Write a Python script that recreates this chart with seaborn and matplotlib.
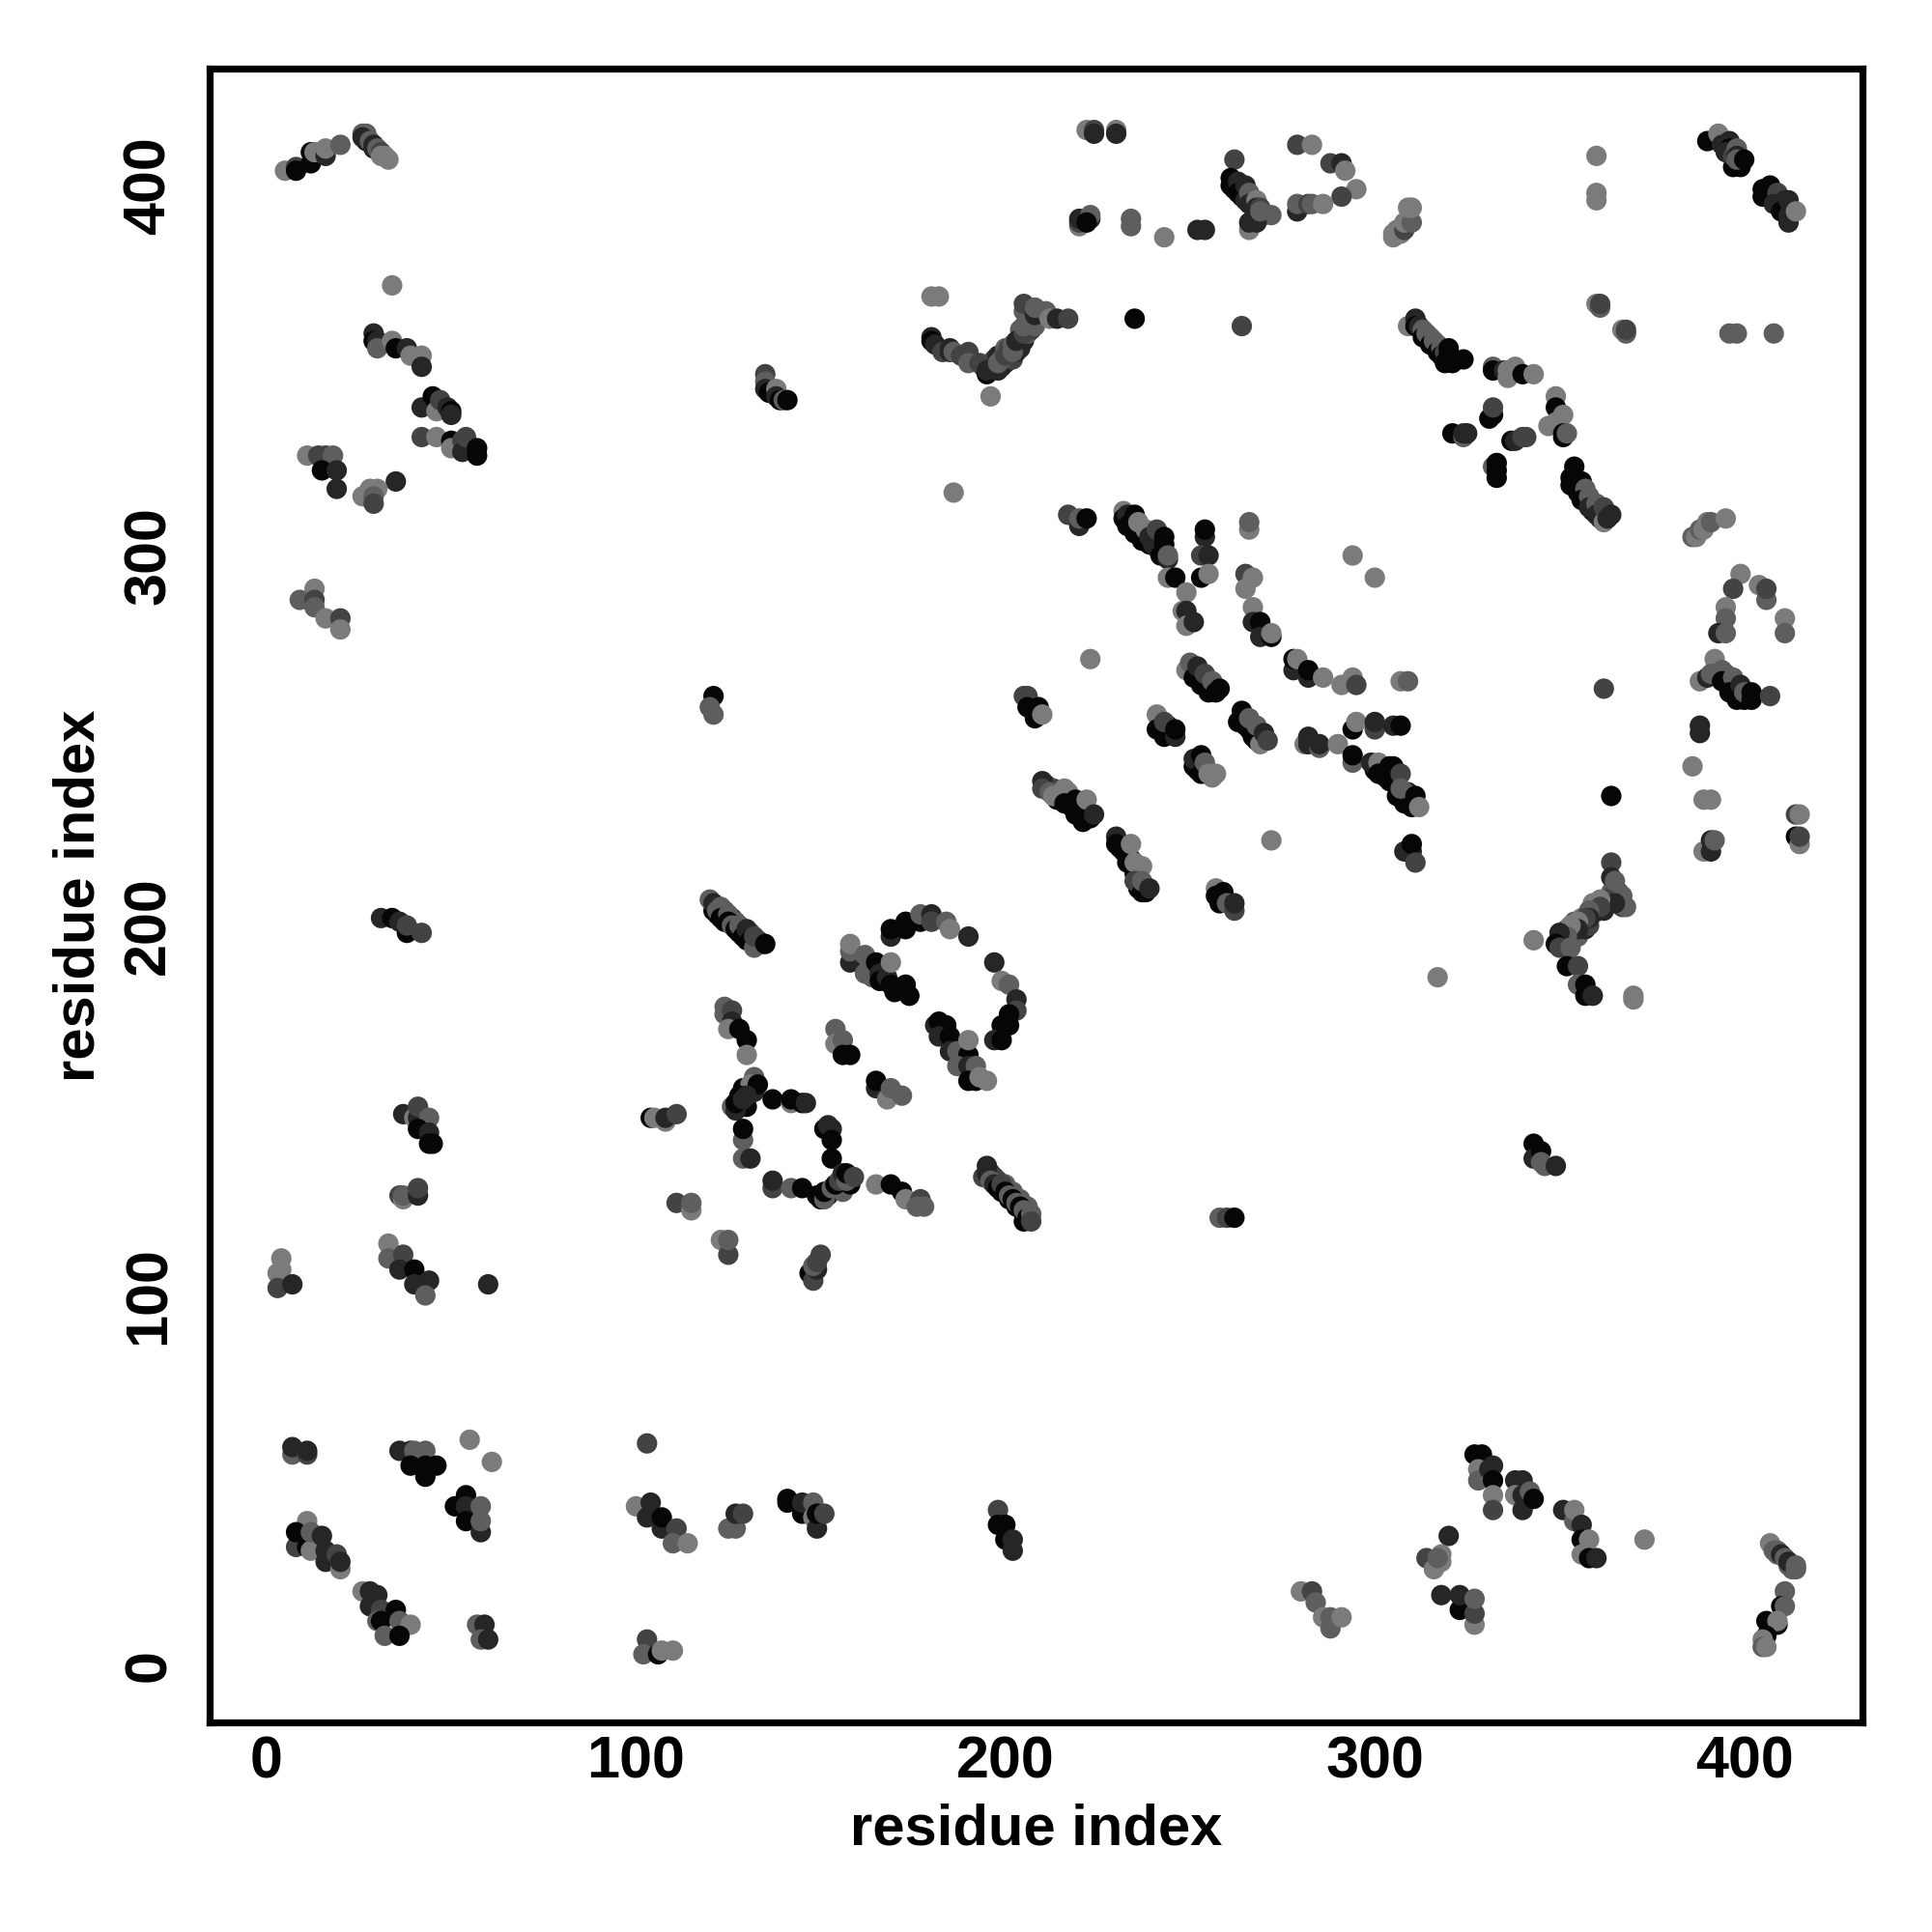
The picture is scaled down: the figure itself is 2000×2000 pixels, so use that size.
"""
Residue contact map, drawn point by point from values read off the picture.
g is the shade step of each contact: 0 = near black ... 4 = light grey.
"""
import pandas as pd
import matplotlib
matplotlib.use("Agg")
import matplotlib.pyplot as plt
import seaborn as sns

# points inside the dense streaks, they sit under everything else
under_x = [194, 196, 196, 197, 198, 199, 200, 200, 201, 201, 202, 203, 203, 204, 204, 204, 205, 206, 206, 207, 206, 207, 209, 210]
under_y = [351, 350, 352, 353, 354, 351, 352, 356, 353, 356, 353, 355, 357, 356, 359, 361, 358, 360, 363, 361, 365, 364, 366, 365]
under_g = [1, 0, 2, 2, 1, 1, 1, 3, 1, 2, 2, 1, 2, 1, 3, 3, 1, 3, 3, 2, 3, 3, 3, 2]

under2_x = [351, 352, 353, 354, 354, 355, 356, 356, 357, 358, 359, 359, 360, 362, 362, 363, 364, 364, 365, 366, 366, 367]
under2_y = [196, 199, 198, 197, 201, 197, 200, 202, 199, 200, 203, 206, 204, 206, 204, 207, 209, 207, 209, 206, 209, 205]
under2_g = [1, 3, 1, 2, 3, 3, 2, 4, 1, 2, 3, 4, 1, 3, 1, 3, 3, 0, 2, 3, 2, 2]

under3_x = [121, 122, 124, 124, 126, 127, 128, 129, 130, 131, 133, 133, 134, 196, 197, 198, 199, 200, 201, 202, 203, 204, 205, 206, 205]
under3_y = [204, 203, 204, 201, 202, 201, 198, 199, 196, 198, 196, 195, 195, 133, 132, 131, 128, 130, 126, 128, 124, 126, 122, 124, 120]
under3_g = [0, 0, 3, 0, 1, 3, 0, 3, 0, 3, 1, 0, 1, 1, 2, 2, 0, 3, 0, 3, 0, 3, 0, 3, 0]

under4_x = [406, 407, 408, 409, 410, 411, 355, 357, 359, 361, 359, 361, 211, 213, 214, 215, 218, 220, 221, 220, 221]
under4_y = [398, 397, 397, 395, 396, 394, 319, 316, 314, 312, 312, 310, 238, 237, 234, 236, 232, 232, 232, 230, 228]
under4_g = [1, 1, 2, 1, 1, 1, 0, 0, 3, 3, 0, 1, 1, 2, 0, 2, 0, 0, 1, 0, 0]

under5_x = [231, 233, 234, 235, 236, 236, 238, 265, 267, 269, 267, 300, 302, 303, 303, 305, 306, 309, 306, 309]
under5_y = [221, 220, 218, 214, 214, 210, 209, 254, 254, 251, 251, 242, 243, 241, 240, 240, 238, 234, 241, 236]
under5_g = [0, 3, 0, 0, 3, 0, 0, 0, 3, 1, 0, 0, 2, 1, 0, 0, 0, 0, 1, 1]

under6_x = [234, 236, 238, 239, 241, 241, 244, 245, 252, 252, 254, 256, 412, 413, 409, 128, 129, 131, 129, 130, 132, 150, 152, 155, 156, 156, 158]
under6_y = [309, 306, 304, 303, 302, 304, 254, 252, 244, 242, 242, 240, 27, 26, 30, 152, 151, 155, 156, 151, 155, 126, 127, 129, 130, 128, 130]
under6_g = [0, 1, 0, 0, 0, 1, 0, 0, 0, 0, 0, 4, 3, 3, 3, 0, 0, 1, 0, 0, 1, 0, 1, 0, 0, 3, 0]

# top left
tl_x = [5, 8, 8, 12, 12, 13, 16, 16, 20, 26, 27, 26, 27, 28, 29, 29, 30, 31, 31, 32, 33]
tl_y = [404, 405, 404, 406, 409, 409, 408, 410, 411, 414, 414, 413, 412, 412, 411, 410, 410, 409, 408, 408, 407]
tl_g = [4, 2, 0, 0, 0, 4, 1, 4, 3, 3, 3, 1, 1, 3, 1, 1, 3, 2, 4, 4, 4]

a_x = [34, 29, 29, 30, 30, 34, 35, 38, 39, 42, 42]
a_y = [373, 360, 358, 358, 356, 358, 356, 356, 354, 354, 351]
a_g = [4, 1, 0, 1, 3, 4, 0, 1, 4, 4, 1]

b_x = [42, 45, 46, 47, 49, 50, 50, 42, 46, 50, 50, 53, 53, 54, 57, 57]
b_y = [340, 343, 339, 342, 340, 339, 338, 332, 332, 331, 329, 331, 328, 332, 329, 327]
b_g = [1, 0, 4, 2, 1, 0, 1, 2, 4, 0, 4, 2, 1, 2, 0, 0]

c_x = [11, 14, 16, 18, 15, 19, 19, 35, 26, 28, 30, 29, 29, 13, 9, 13, 13, 16, 20, 20]
c_y = [327, 327, 327, 327, 323, 323, 318, 320, 316, 318, 318, 316, 314, 291, 288, 288, 286, 283, 283, 280]
c_g = [4, 2, 2, 3, 0, 1, 1, 1, 4, 4, 4, 3, 2, 4, 3, 2, 3, 4, 2, 4]

d_x = [135, 135, 135, 136, 138, 138, 139, 140, 141, 121, 120, 121]
d_y = [349, 347, 345, 344, 345, 343, 342, 342, 342, 262, 259, 257]
d_g = [2, 3, 1, 0, 4, 1, 0, 3, 0, 0, 3, 3]

# top middle
e_x = [222, 224, 224, 230, 230, 220, 220, 220, 223, 223, 222, 234, 234, 243, 252, 254, 235, 264]
e_y = [415, 415, 414, 415, 414, 389, 390, 391, 391, 392, 390, 391, 389, 386, 388, 388, 364, 362]
e_g = [4, 2, 1, 4, 1, 4, 2, 1, 1, 3, 0, 3, 3, 4, 1, 1, 0, 2]

f_x = [262, 266, 261, 261, 262, 263, 263, 264, 265, 265, 266, 266, 268, 268, 269, 270, 272, 266, 268, 269]
f_y = [407, 388, 402, 400, 399, 401, 398, 397, 400, 396, 398, 395, 396, 394, 394, 392, 392, 390, 390, 393]
f_g = [2, 4, 0, 0, 0, 1, 0, 0, 1, 1, 3, 1, 4, 1, 2, 2, 3, 1, 1, 3]

h_x = [279, 283, 288, 291, 292, 295, 291, 279, 279, 282, 283, 286]
h_y = [411, 411, 406, 406, 404, 399, 397, 393, 395, 395, 395, 395]
h_g = [2, 4, 2, 1, 4, 4, 2, 1, 3, 2, 3, 4]

i_x = [305, 305, 306, 307, 308, 308, 310, 309, 310]
i_y = [386, 387, 388, 387, 388, 390, 390, 394, 394]
i_g = [4, 4, 4, 4, 2, 4, 3, 4, 4]

j_x = [180, 182, 186, 196, 180, 180, 181, 183, 185, 185, 186, 188]
j_y = [370, 370, 317, 343, 359, 358, 357, 355, 356, 355, 355, 354]
j_g = [4, 4, 4, 4, 1, 0, 1, 2, 1, 1, 3, 2]

k_x = [190, 190, 193, 195, 195, 197, 198, 198, 199, 200, 202, 202, 203, 205, 205, 208, 205, 205, 208, 208, 211, 212, 214, 217]
k_y = [355, 352, 352, 349, 350, 351, 350, 352, 353, 354, 355, 357, 358, 360, 362, 362, 366, 368, 365, 367, 366, 364, 364, 364]
k_g = [2, 3, 2, 0, 1, 1, 1, 3, 3, 2, 3, 3, 1, 2, 3, 3, 3, 2, 1, 3, 3, 4, 1, 2]

# top right
m_x = [390, 393, 394, 396, 396, 395, 397, 397, 398, 398, 399, 398, 400]
m_y = [412, 414, 411, 412, 410, 409, 405, 408, 410, 408, 405, 407, 407]
m_g = [0, 4, 1, 1, 0, 1, 0, 2, 3, 1, 0, 3, 0]

n_x = [405, 405, 407, 409, 408, 411, 410, 412, 412, 412, 414]
n_y = [399, 397, 400, 398, 395, 396, 393, 396, 390, 392, 393]
n_g = [0, 0, 0, 2, 1, 1, 0, 1, 1, 1, 4]

o_x = [360, 360, 360, 360, 361, 361, 367, 368, 368, 396, 398, 408]
o_y = [408, 398, 396, 368, 367, 368, 361, 360, 361, 360, 360, 360]
o_g = [4, 4, 4, 4, 3, 2, 4, 3, 2, 3, 3, 3]

p_x = [309, 311, 311, 312, 313, 313, 314, 315, 315, 316, 317, 317, 318, 318, 319, 319, 320, 320, 321, 320, 324]
p_y = [362, 364, 362, 362, 361, 359, 360, 359, 357, 358, 357, 355, 356, 354, 355, 352, 354, 353, 352, 356, 353]
p_g = [4, 1, 0, 1, 3, 0, 3, 3, 0, 3, 3, 0, 3, 0, 2, 0, 0, 0, 0, 0, 0]

q_x = [332, 332, 335, 336, 336, 338, 340, 343, 349, 349, 347, 349, 351, 351, 351, 352]
q_y = [351, 350, 350, 348, 350, 351, 349, 349, 343, 340, 335, 336, 338, 333, 332, 333]
q_g = [3, 0, 1, 4, 4, 4, 0, 4, 4, 0, 4, 4, 4, 0, 0, 3]

r_x = [331, 332, 332, 321, 324, 324, 325, 337, 338, 340, 341, 332, 333, 333, 333]
r_y = [337, 338, 340, 333, 332, 333, 333, 331, 331, 332, 332, 324, 325, 323, 321]
r_g = [0, 0, 2, 0, 3, 1, 1, 0, 1, 2, 2, 3, 0, 0, 0]

s_x = [353, 353, 354, 355, 356, 357, 356, 358, 358, 360, 360, 362, 362, 363, 364]
s_y = [321, 319, 324, 317, 320, 318, 315, 316, 313, 314, 311, 309, 313, 310, 311]
s_g = [0, 0, 0, 0, 0, 3, 0, 3, 1, 3, 1, 4, 2, 1, 1]

t_x = [386, 387, 388, 389, 390, 391, 395, 399, 397, 404, 406, 406, 395, 395, 393, 395, 411, 411]
t_y = [305, 305, 307, 307, 309, 309, 310, 295, 291, 292, 288, 291, 286, 283, 279, 279, 283, 279]
t_g = [3, 4, 3, 4, 4, 3, 4, 4, 2, 4, 3, 2, 4, 3, 1, 3, 4, 3]

u_x = [388, 392, 390, 391, 394, 395, 394, 397, 396, 399, 398, 400, 400, 402, 402, 407, 362]
u_y = [266, 272, 267, 268, 269, 268, 266, 267, 263, 265, 261, 261, 263, 261, 263, 262, 264]
u_g = [4, 4, 1, 3, 3, 3, 0, 3, 0, 1, 0, 0, 3, 0, 0, 2, 2]

v_x = [388, 388, 386, 364, 389, 391, 414, 415, 414, 415, 415, 389, 391, 391, 392]
v_y = [254, 252, 243, 235, 234, 234, 230, 230, 224, 222, 224, 220, 220, 223, 223]
v_g = [1, 1, 4, 0, 4, 4, 2, 4, 0, 4, 2, 4, 1, 1, 3]

w_x = [364, 364, 365, 367, 368, 365, 361, 361, 358, 358, 357, 355, 355, 353, 352, 350, 349, 350, 353]
w_y = [217, 213, 212, 208, 205, 206, 207, 205, 204, 202, 202, 201, 199, 200, 197, 198, 195, 194, 194]
w_g = [2, 1, 3, 3, 3, 1, 4, 2, 3, 1, 2, 4, 1, 4, 3, 1, 0, 2, 3]

y_x = [343, 352, 355, 355, 357, 357, 359, 370, 370, 317]
y_y = [196, 189, 189, 184, 184, 181, 181, 181, 180, 186]
y_g = [4, 0, 2, 3, 0, 0, 1, 4, 4, 4]

# centre, the long diagonal streaks
aa_x = [217, 220, 220, 222, 232, 232, 233, 233, 235, 235, 236, 237, 238, 239, 240, 241, 242, 243, 243, 244, 244]
aa_y = [311, 308, 310, 310, 312, 310, 311, 308, 311, 306, 309, 304, 307, 305, 303, 307, 300, 305, 303, 299, 300]
aa_g = [2, 1, 3, 0, 4, 0, 1, 0, 0, 0, 4, 0, 4, 1, 1, 2, 0, 0, 0, 1, 3]

ab_x = [244, 246, 249, 248, 249, 249, 251, 254, 254, 253, 255, 253, 255]
ab_y = [294, 294, 290, 285, 285, 281, 282, 305, 307, 300, 300, 294, 295]
ab_g = [4, 0, 4, 4, 1, 4, 1, 1, 0, 2, 1, 0, 4]

ac_x = [266, 266, 265, 265, 267, 267, 267, 269, 269, 272, 272, 294, 300]
ac_y = [307, 309, 295, 291, 294, 286, 282, 282, 278, 278, 279, 300, 294]
ac_g = [4, 3, 2, 4, 4, 4, 1, 0, 1, 0, 4, 4, 4]

ad_x = [223, 278, 278, 279, 282, 282, 286, 291, 294, 295, 307, 309]
ad_y = [272, 269, 272, 272, 267, 269, 267, 265, 267, 265, 266, 266]
ad_g = [4, 1, 0, 4, 1, 0, 4, 4, 4, 2, 4, 3]

ae_x = [249, 250, 251, 252, 253, 254, 255, 256, 257, 258]
ae_y = [269, 271, 267, 270, 265, 268, 263, 266, 263, 264]
ae_g = [4, 3, 0, 1, 0, 2, 0, 3, 0, 0]

af_x = [241, 241, 242, 243, 243, 246, 246, 251, 251, 253, 253, 254, 255, 257]
af_y = [257, 253, 253, 251, 255, 251, 253, 243, 245, 241, 246, 244, 241, 241]
af_g = [4, 0, 0, 0, 2, 1, 0, 0, 1, 0, 0, 3, 4, 4]

ag_x = [263, 264, 266, 266, 268, 268, 269, 270, 271, 281, 282, 282, 285, 285, 290]
ag_y = [255, 258, 253, 256, 250, 254, 249, 252, 250, 249, 249, 251, 248, 249, 249]
ag_g = [0, 0, 0, 3, 0, 3, 4, 1, 2, 4, 1, 1, 3, 1, 4]

ah_x = [294, 295, 300, 300, 305, 307, 294, 294]
ah_y = [253, 255, 253, 255, 254, 254, 244, 246]
ah_g = [0, 4, 2, 1, 1, 0, 3, 0]

ai_x = [299, 301, 301, 304, 305, 304, 307, 306, 308, 308, 307, 310, 311, 312]
ai_y = [244, 244, 241, 243, 243, 239, 241, 235, 236, 233, 237, 232, 235, 232]
ai_g = [1, 4, 0, 0, 0, 0, 2, 0, 3, 0, 3, 0, 0, 4]

aj_x = [308, 310, 310, 311, 272, 205, 206, 206, 209, 208, 210]
aj_y = [220, 220, 222, 217, 223, 262, 262, 259, 259, 256, 257]
aj_g = [1, 1, 0, 2, 4, 2, 2, 0, 0, 0, 4]

ak_x = [210, 210, 212, 213, 216, 217, 216, 219, 219, 222, 222, 223, 224]
ak_y = [239, 237, 236, 235, 237, 236, 233, 234, 230, 229, 234, 229, 230]
ak_g = [1, 2, 3, 4, 4, 4, 0, 0, 0, 0, 4, 0, 1]

al_x = [230, 230, 232, 233, 234, 235, 237, 235, 237, 237, 239]
al_y = [224, 222, 220, 217, 222, 217, 216, 212, 209, 212, 210]
al_g = [1, 0, 0, 0, 4, 4, 4, 2, 0, 3, 1]

am_x = [257, 257, 259, 258, 260, 262, 262]
am_y = [210, 208, 209, 206, 206, 204, 206]
am_g = [4, 0, 0, 0, 3, 2, 1]

# the loops around (130-200, 130-200)
an_x = [120, 121, 122, 123, 123, 125, 125, 126, 127, 128, 129, 130, 131, 132, 132, 135]
an_y = [207, 206, 204, 205, 202, 203, 201, 200, 199, 200, 197, 199, 196, 194, 197, 195]
an_g = [3, 1, 3, 3, 0, 3, 0, 3, 0, 3, 0, 1, 0, 3, 2, 0]

ao_x = [169, 169, 173, 173, 177, 177, 180, 180, 184, 185, 190, 197, 199, 201, 203, 203, 201, 201, 199, 197, 199]
ao_y = [197, 199, 201, 199, 201, 203, 203, 201, 201, 199, 197, 190, 185, 184, 180, 177, 176, 173, 173, 169, 169]
ao_g = [1, 0, 0, 0, 0, 3, 1, 2, 3, 4, 1, 1, 4, 3, 1, 2, 0, 0, 0, 1, 0]

ap_x = [158, 158, 158, 162, 162, 164, 165, 166, 166, 168, 169, 169, 170, 173, 174]
ap_y = [190, 193, 195, 192, 187, 186, 190, 187, 185, 186, 184, 190, 182, 184, 181]
ap_g = [1, 3, 4, 3, 3, 3, 0, 1, 0, 1, 0, 4, 0, 0, 0]

aq_x = [181, 182, 184, 182, 185, 185, 187, 190, 187, 190, 192, 190, 192, 193, 190, 195]
aq_y = [173, 174, 173, 170, 170, 166, 166, 165, 162, 162, 162, 158, 158, 159, 169, 158]
aq_g = [1, 0, 0, 1, 0, 1, 3, 0, 3, 1, 3, 0, 0, 4, 4, 4]

ar_x = [124, 124, 126, 126, 125, 128, 130, 130, 154, 154, 156, 156, 158, 165, 165, 168, 169, 172]
ar_y = [178, 176, 177, 174, 172, 172, 169, 165, 172, 168, 169, 165, 165, 156, 158, 153, 156, 154]
ar_g = [3, 3, 2, 1, 4, 0, 0, 4, 3, 4, 3, 0, 0, 1, 0, 4, 3, 3]

as_x = [132, 131, 133, 128, 130, 126, 127, 127, 129, 137, 142, 142, 145, 146]
as_y = [159, 157, 157, 154, 154, 151, 150, 152, 153, 153, 152, 153, 152, 152]
as_g = [3, 4, 0, 0, 1, 3, 1, 0, 1, 0, 4, 0, 0, 1]

at_x = [129, 129, 129, 131, 151, 152, 153, 153, 153]
at_y = [142, 145, 137, 137, 145, 146, 145, 142, 137]
at_g = [3, 0, 3, 1, 0, 1, 1, 0, 0]

au_x = [137, 137, 142, 145, 149, 151, 151, 153, 154, 155, 156, 157, 157, 159]
au_y = [129, 131, 129, 129, 127, 126, 128, 129, 130, 131, 133, 131, 133, 132]
au_g = [2, 1, 3, 0, 0, 3, 0, 3, 0, 2, 1, 3, 0, 2]

av_x = [165, 169, 172, 173, 177, 176, 178]
av_y = [130, 130, 128, 126, 126, 124, 124]
av_g = [4, 0, 0, 4, 2, 3, 3]

aw_x = [195, 194, 195, 196, 197, 198, 199, 200, 201, 202, 203, 204, 205, 206, 207, 207]
aw_y = [135, 132, 133, 131, 130, 129, 130, 128, 127, 126, 125, 124, 123, 121, 122, 120]
aw_g = [1, 2, 1, 3, 1, 0, 2, 0, 3, 0, 3, 0, 3, 0, 3, 2]

ax_x = [123, 125, 125, 147, 148, 149, 148, 149, 150, 258, 260, 262]
ax_y = [115, 111, 115, 106, 104, 107, 108, 109, 111, 121, 121, 121]
ax_g = [4, 2, 3, 0, 2, 1, 3, 2, 2, 3, 2, 0]

ay_x = [343, 343, 345, 345, 346, 349, 31, 34, 36, 38, 38, 42]
ay_y = [141, 137, 139, 136, 135, 135, 202, 202, 201, 198, 200, 198]
ay_g = [0, 1, 0, 3, 3, 1, 1, 0, 1, 0, 2, 2]

# left side, lower half
ba_x = [37, 40, 41, 41, 44, 41, 44, 44, 45, 36, 37, 37, 41, 41]
ba_y = [149, 148, 148, 151, 148, 145, 144, 141, 141, 127, 126, 127, 127, 129]
ba_g = [1, 4, 1, 2, 3, 0, 1, 0, 0, 2, 4, 3, 1, 2]

bb_x = [4, 3, 4, 3, 7, 33, 33, 37, 36, 40, 40, 44, 43, 60]
bb_y = [110, 106, 107, 102, 103, 114, 110, 111, 107, 107, 103, 104, 100, 103]
bb_g = [4, 4, 4, 2, 1, 4, 3, 2, 1, 0, 1, 1, 3, 1]

bc_x = [104, 105, 108, 108, 111, 111, 115, 115]
bc_y = [148, 148, 147, 148, 149, 125, 123, 125]
bc_g = [0, 4, 4, 1, 2, 2, 4, 3]

bd_x = [7, 7, 11, 11, 36, 39, 40, 43, 39, 43, 46, 43, 55, 61, 103]
bd_y = [57, 59, 57, 58, 58, 58, 58, 58, 54, 54, 54, 51, 61, 55, 60]
bd_g = [3, 1, 2, 1, 1, 1, 3, 3, 0, 0, 0, 0, 4, 4, 2]

be_x = [54, 51, 54, 54, 58, 58, 58, 11, 8, 8, 11, 12, 12, 15, 16, 16, 19, 20, 20]
be_y = [46, 43, 43, 39, 36, 39, 43, 39, 32, 36, 32, 31, 36, 35, 31, 28, 30, 26, 28]
be_g = [0, 0, 1, 0, 1, 3, 3, 4, 2, 0, 0, 4, 3, 1, 1, 1, 2, 4, 1]

bf_x = [26, 28, 30, 28, 31, 35, 30, 31, 36, 39, 32, 36, 57, 59, 59, 58, 60]
bf_y = [20, 20, 19, 16, 15, 15, 12, 12, 12, 11, 8, 8, 11, 11, 8, 7, 7]
bf_g = [4, 1, 1, 1, 2, 0, 3, 0, 3, 4, 3, 0, 3, 1, 1, 3, 1]

bg_x = [100, 104, 103, 107, 107, 111, 110, 114, 103, 102, 106, 107, 110]
bg_y = [43, 44, 40, 37, 40, 37, 33, 33, 7, 3, 3, 4, 4]
bg_g = [4, 1, 1, 1, 0, 2, 3, 4, 2, 3, 0, 4, 4]

# bottom middle and right
bh_x = [125, 127, 127, 129, 141, 141, 145, 145, 148, 148, 149, 149, 151]
bh_y = [37, 37, 41, 41, 45, 44, 41, 44, 44, 40, 37, 41, 41]
bh_g = [3, 3, 1, 2, 0, 0, 0, 1, 3, 4, 1, 0, 2]

bi_x = [198, 198, 200, 200, 202, 202, 280, 283, 284, 286, 288, 288, 291]
bi_y = [42, 38, 38, 34, 34, 31, 20, 20, 17, 13, 13, 10, 13]
bi_g = [2, 0, 0, 0, 1, 1, 4, 2, 3, 4, 3, 3, 4]

bj_x = [320, 314, 316, 318, 318, 317, 318, 323, 323, 327, 327, 327]
bj_y = [35, 29, 26, 28, 30, 29, 19, 15, 19, 11, 14, 18]
bj_g = [1, 2, 4, 4, 4, 3, 1, 0, 1, 4, 2, 3]

bk_x = [327, 329, 328, 328, 331, 332, 332, 332, 332]
bk_y = [57, 57, 53, 50, 53, 54, 50, 46, 42]
bk_g = [0, 0, 4, 3, 1, 1, 0, 4, 2]

bl_x = [338, 340, 338, 340, 340, 342, 343, 351, 354, 354, 356, 356, 358, 356, 358, 360, 373]
bl_y = [50, 50, 46, 46, 42, 47, 45, 42, 39, 42, 38, 34, 34, 30, 29, 29, 34]
bl_g = [1, 1, 4, 1, 1, 3, 0, 1, 3, 4, 1, 0, 4, 4, 0, 1, 4]

bm_x = [407, 408, 409, 410, 411, 412, 414, 414, 411, 410, 411, 409, 406, 409, 406, 405, 405, 406]
bm_y = [33, 31, 31, 30, 29, 28, 27, 26, 20, 16, 16, 11, 12, 12, 8, 7, 5, 5]
bm_g = [4, 3, 3, 1, 3, 1, 3, 3, 3, 0, 3, 0, 0, 4, 0, 4, 3, 4]

contact_x = (under_x + under2_x + under3_x + under4_x + under5_x + under6_x
             + tl_x + a_x + b_x + c_x + d_x + e_x + f_x + h_x + i_x + j_x + k_x + m_x + n_x + o_x + p_x + q_x + r_x
             + s_x + t_x + u_x + v_x + w_x + y_x + aa_x + ab_x + ac_x + ad_x + ae_x + af_x + ag_x + ah_x + ai_x
             + aj_x + ak_x + al_x + am_x + an_x + ao_x + ap_x + aq_x + ar_x + as_x + at_x + au_x + av_x + aw_x
             + ax_x + ay_x + ba_x + bb_x + bc_x + bd_x + be_x + bf_x + bg_x + bh_x + bi_x + bj_x + bk_x + bl_x + bm_x)
contact_y = (under_y + under2_y + under3_y + under4_y + under5_y + under6_y
             + tl_y + a_y + b_y + c_y + d_y + e_y + f_y + h_y + i_y + j_y + k_y + m_y + n_y + o_y + p_y + q_y + r_y
             + s_y + t_y + u_y + v_y + w_y + y_y + aa_y + ab_y + ac_y + ad_y + ae_y + af_y + ag_y + ah_y + ai_y
             + aj_y + ak_y + al_y + am_y + an_y + ao_y + ap_y + aq_y + ar_y + as_y + at_y + au_y + av_y + aw_y
             + ax_y + ay_y + ba_y + bb_y + bc_y + bd_y + be_y + bf_y + bg_y + bh_y + bi_y + bj_y + bk_y + bl_y + bm_y)
contact_g = (under_g + under2_g + under3_g + under4_g + under5_g + under6_g
             + tl_g + a_g + b_g + c_g + d_g + e_g + f_g + h_g + i_g + j_g + k_g + m_g + n_g + o_g + p_g + q_g + r_g
             + s_g + t_g + u_g + v_g + w_g + y_g + aa_g + ab_g + ac_g + ad_g + ae_g + af_g + ag_g + ah_g + ai_g
             + aj_g + ak_g + al_g + am_g + an_g + ao_g + ap_g + aq_g + ar_g + as_g + at_g + au_g + av_g + aw_g
             + ax_g + ay_g + ba_g + bb_g + bc_g + bd_g + be_g + bf_g + bg_g + bh_g + bi_g + bj_g + bk_g + bl_g + bm_g)

tick_values = [0, 100, 200, 300, 400]
shades = {0: "#060606", 1: "#262626", 2: "#434343", 3: "#5e5e5e", 4: "#7b7b7b"}

sns.set_style("white")
plt.rcParams["font.family"] = ["Liberation Sans", "DejaVu Sans"]
plt.rcParams["font.weight"] = "bold"
plt.rcParams["text.color"] = "black"
plt.rcParams["axes.labelcolor"] = "black"
plt.rcParams["xtick.color"] = "black"
plt.rcParams["ytick.color"] = "black"

df = pd.DataFrame({"x": contact_x, "y": contact_y, "g": contact_g})

fig = plt.figure(figsize=(10, 10), dpi=200)
ax = fig.add_axes([217 / 2000, 217 / 2000, 1711 / 2000, 1712 / 2000])

sns.scatterplot(data=df, x="x", y="y", hue="g", palette=shades, s=58, linewidth=0, legend=False, ax=ax)

ax.set_xlim(-15.4, 432)
ax.set_ylim(-15.4, 431.6)
ax.set_xticks(tick_values)
ax.set_yticks(tick_values)
ax.set_xticklabels([str(v) for v in tick_values])
ax.set_yticklabels([str(v) for v in tick_values], rotation=90, va="center")
ax.tick_params(length=3.5, width=1.5, color="black", labelsize=22)
ax.tick_params(axis="x", pad=1.5)
ax.tick_params(axis="y", pad=8.5)
ax.set_xlabel("residue index", fontsize=21.5, fontweight="bold")
ax.set_ylabel("residue index", fontsize=21.5, fontweight="bold")
ax.xaxis.set_label_coords(0.5, -0.049)
ax.yaxis.set_label_coords(-0.063, 0.5)
for side in ax.spines.values():
    side.set_visible(True)
    side.set_linewidth(2.6)
    side.set_color("black")

plt.savefig("out.png", dpi=200)
plt.close()
